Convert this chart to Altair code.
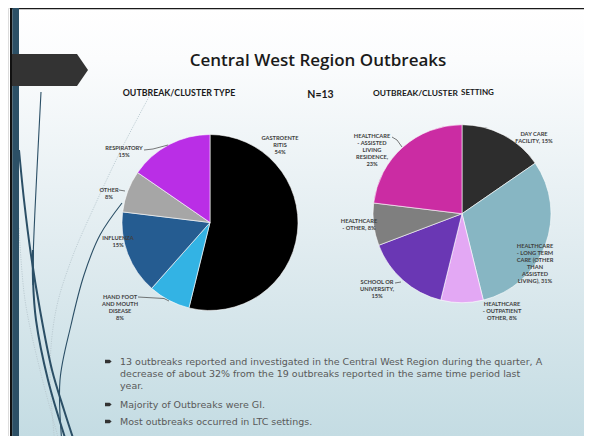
import altair as alt
import pandas as pd

# ---------------- data ----------------
type_cats = ["GASTROENTERITIS", "HAND FOOT AND MOUTH DISEASE", "INFLUENZA", "OTHER", "RESPIRATORY"]
type_counts = [7, 1, 2, 1, 2]
type_labels = ["GASTROENTE\nRITIS\n54%", "HAND  FOOT\nAND MOUTH\nDISEASE\n8%", "INFLUENZA\n15%", "OTHER\n8%", "RESPIRATORY\n15%"]
type_colors = ["#000000", "#33b3e4", "#255c91", "#a6a6a6", "#ba2ee6"]

set_cats = ["DAY CARE FACILITY", "HEALTHCARE - LONG TERM CARE", "HEALTHCARE - OUTPATIENT OTHER",
            "SCHOOL OR UNIVERSITY", "HEALTHCARE - OTHER", "HEALTHCARE - ASSISTED LIVING RESIDENCE"]
set_counts = [2, 4, 1, 2, 1, 3]
set_labels = ["DAY CARE\nFACILITY, 15%", "HEALTHCARE\n- LONG TERM\nCARE (OTHER\nTHAN\nASSISTED\nLIVING), 31%",
              "HEALTHCARE\n- OUTPATIENT\nOTHER, 8%", "SCHOOL OR\nUNIVERSITY,\n15%", "HEALTHCARE\n-  OTHER, 8%",
              "HEALTHCARE\n- ASSISTED\nLIVING\nRESIDENCE,\n23%"]
set_colors = ["#2d2d2d", "#87b6c3", "#e3a8f4", "#6a37b4", "#7f7f7f", "#cb2ca3"]

title_text = "Central West Region Outbreaks"
bullets = [
    "13 outbreaks reported and investigated in the Central West Region during the quarter, A",
    "decrease of about 32% from the 19 outbreaks reported in the same time period last",
    "year.",
    "Majority of Outbreaks were GI.",
    "Most outbreaks occurred in  LTC settings.",
]

# ---------------- layout (image pixel coordinates) ----------------
W, H = 576, 428
OX, OY = 8, 8
type_label_pos = [(280, 135), (120, 294), (118, 235), (109, 187), (124, 145)]
set_label_pos = [(534, 131), (535, 242.5), (502, 301), (377, 279), (359, 218), (372, 133)]
bullet_text_pos = [(120, 362), (120, 374), (120, 386), (120, 405), (120, 422)]
bullet_mark_pos = [(108.3, 361.5), (108.3, 404.5), (108.3, 421.5)]
leaders = [
    (144, 150, 153, 149), (153, 149, 168, 145),
    (119, 190, 125, 191),
    (138, 297, 164, 298.5), (164, 298.5, 169, 301),
    (392, 137, 397, 140), (397, 140, 402, 147),
    (395, 283, 401, 282),
]
curves_thick = {
    "c1": [(19, 150), (24, 200), (31, 255), (40, 310), (52, 370), (64, 410), (75, 444)],
    "c2": [(33, 250), (33, 280), (36, 320), (48, 380), (67, 444)],
}
curves_thin = {
    "t1": [(41, 92), (38, 150), (35, 210), (33, 262), (33, 285)],
    "c3": [(122, 203), (100, 235), (84, 275), (71, 325), (60, 380), (62, 444)],
}
curves_dash = {
    "d1": [(150, 95), (122, 148), (95, 205), (72, 258), (56, 310), (50, 370), (55, 444)],
    "d2": [(19, 228), (25, 300), (40, 370), (60, 444)],
}

xs = alt.Scale(domain=[OX, OX + W], nice=False, zero=False)
ys = alt.Scale(domain=[OY, OY + H], nice=False, zero=False, reverse=True)


def X(f="x"):
    return alt.X(f"{f}:Q", scale=xs, axis=None)


def Y(f="y"):
    return alt.Y(f"{f}:Q", scale=ys, axis=None)


one = pd.DataFrame({"a": [0]})

bg = alt.Chart(one).mark_rect(
    fill=alt.LinearGradient(
        gradient="linear", x1=0, y1=0, x2=0, y2=1,
        stops=[alt.GradientStop(offset=0, color="#ffffff"),
               alt.GradientStop(offset=0.12, color="#fbfcfd"),
               alt.GradientStop(offset=0.55, color="#e1ecf0"),
               alt.GradientStop(offset=1, color="#c4dce3")])
).encode(x=alt.value(2), x2=alt.value(W), y=alt.value(0), y2=alt.value(H))

topline = alt.Chart(one).mark_rect(color="#1a1a1a").encode(
    x=alt.value(2), x2=alt.value(W), y=alt.value(-1), y2=alt.value(1.2))
leftblack = alt.Chart(one).mark_rect(color="#111111").encode(
    x=alt.value(2), x2=alt.value(4.4), y=alt.value(0), y2=alt.value(H))
leftblue = alt.Chart(one).mark_rect(color="#2c5066").encode(
    x=alt.value(4.4), x2=alt.value(11), y=alt.value(0), y2=alt.value(H))


def curve_df(d):
    rows = []
    for k, pts in d.items():
        for i, (x, y) in enumerate(pts):
            rows.append({"id": k, "seq": i, "x": x, "y": y})
    return pd.DataFrame(rows)


thick = alt.Chart(curve_df(curves_thick)).mark_line(
    color="#2b4f66", strokeWidth=2, interpolate="catmull-rom"
).encode(x=X(), y=Y(), detail="id:N", order="seq:Q")
thin = alt.Chart(curve_df(curves_thin)).mark_line(
    color="#2b4f66", strokeWidth=1.1, interpolate="catmull-rom"
).encode(x=X(), y=Y(), detail="id:N", order="seq:Q")
dashed = alt.Chart(curve_df(curves_dash)).mark_line(
    color="#b9c8cf", strokeWidth=0.9, strokeDash=[1.2, 1.2], interpolate="catmull-rom"
).encode(x=X(), y=Y(), detail="id:N", order="seq:Q")

arrow = alt.Chart(one).mark_point(
    shape="M-1,-0.421 L0.71,-0.421 L1,0 L0.71,0.421 L-1,0.421 Z",
    filled=True, color="#333333", opacity=1, size=76 * 76, strokeWidth=0
).encode(x=alt.value(50 - OX), y=alt.value(70 - OY))

title = alt.Chart(pd.DataFrame({"t": [title_text], "x": [318], "y": [61]})).mark_text(
    font="Open Sans", fontSize=17, fontWeight=600, color="#1a1a1a", align="center", baseline="middle"
).encode(x=X(), y=Y(), text="t:N")

sub1 = alt.Chart(pd.DataFrame({"t": ["OUTBREAK/CLUSTER TYPE"], "x": [179], "y": [93]})).mark_text(
    font="Lato", fontSize=8.8, fontWeight="bold", color="#1a1a1a", align="center", baseline="middle"
).encode(x=X(), y=Y(), text="t:N")
sub2 = alt.Chart(pd.DataFrame({"t": ["N=13"], "x": [320.5], "y": [95]})).mark_text(
    font="Lato", fontSize=10.5, fontWeight="bold", color="#1a1a1a", align="center", baseline="middle"
).encode(x=X(), y=Y(), text="t:N")
sub3 = alt.Chart(pd.DataFrame({"t": ["OUTBREAK/CLUSTER"], "x": [373], "y": [93]})).mark_text(
    font="Lato", fontSize=8.4, fontWeight="bold", color="#1a1a1a", align="left", baseline="middle"
).encode(x=X(), y=Y(), text="t:N")
sub4 = alt.Chart(pd.DataFrame({"t": ["SETTING"], "x": [461], "y": [93.4]})).mark_text(
    font="Lato", fontSize=8, fontWeight="bold", color="#1a1a1a", align="left", baseline="middle"
).encode(x=X(), y=Y(), text="t:N")

pie1_df = pd.DataFrame({"cat": type_cats, "n": type_counts, "idx": range(len(type_cats)), "col": type_colors})
pie2_df = pd.DataFrame({"cat": set_cats, "n": set_counts, "idx": range(len(set_cats)), "col": set_colors})

pie1 = alt.Chart(pie1_df).mark_arc(radius=88, stroke="white", strokeWidth=0.6).encode(
    theta=alt.Theta("n:Q", stack=True), color=alt.Color("col:N", scale=None, legend=None),
    order=alt.Order("idx:Q"), x=alt.value(210 - OX), y=alt.value(222.5 - OY))
pie2 = alt.Chart(pie2_df).mark_arc(radius=89, stroke="white", strokeWidth=0.6).encode(
    theta=alt.Theta("n:Q", stack=True), color=alt.Color("col:N", scale=None, legend=None),
    order=alt.Order("idx:Q"), x=alt.value(462 - OX), y=alt.value(213.7 - OY))

lead_df = pd.DataFrame(leaders, columns=["x", "y", "x2", "y2"])
lead = alt.Chart(lead_df).mark_rule(color="#404040", strokeWidth=0.7).encode(
    x=X(), y=Y(), x2="x2:Q", y2="y2:Q")

lab_df = pd.DataFrame({
    "t": type_labels + set_labels,
    "x": [p[0] for p in type_label_pos] + [p[0] for p in set_label_pos],
    "y": [p[1] for p in type_label_pos] + [p[1] for p in set_label_pos],
})
labels = alt.Chart(lab_df).mark_text(
    font="Lato", fontSize=5.7, fontWeight="bold", color="#404040", align="center", baseline="top",
    lineBreak="\n", lineHeight=7.1
).encode(x=X(), y=Y(), text="t:N")

bt_df = pd.DataFrame({"t": bullets, "x": [p[0] for p in bullet_text_pos], "y": [p[1] for p in bullet_text_pos]})
btext = alt.Chart(bt_df).mark_text(
    font="DejaVu Sans", fontSize=9.5, color="#595959", align="left", baseline="middle"
).encode(x=X(), y=Y(), text="t:N")

bm_df = pd.DataFrame({"x": [p[0] for p in bullet_mark_pos], "y": [p[1] for p in bullet_mark_pos]})
bmarks = alt.Chart(bm_df).mark_point(
    shape="M-1,-0.55 L0.4,-0.55 L1,0 L0.4,0.55 L-1,0.55 Z", filled=True, color="#333333",
    opacity=1, size=44, strokeWidth=0
).encode(x=X(), y=Y())

chart = alt.layer(
    bg, dashed, thin, thick, topline, leftblack, leftblue, arrow,
    title, sub1, sub2, sub3, sub4,
    pie1, pie2, lead, labels, bmarks, btext
).resolve_scale(theta="independent").properties(
    width=W, height=H, padding=0, autosize=alt.AutoSizeParams(type="none")
).configure_view(stroke=None).configure(background="#ffffff")

chart.save("out.html", embed_options={"renderer": "svg", "actions": False})
